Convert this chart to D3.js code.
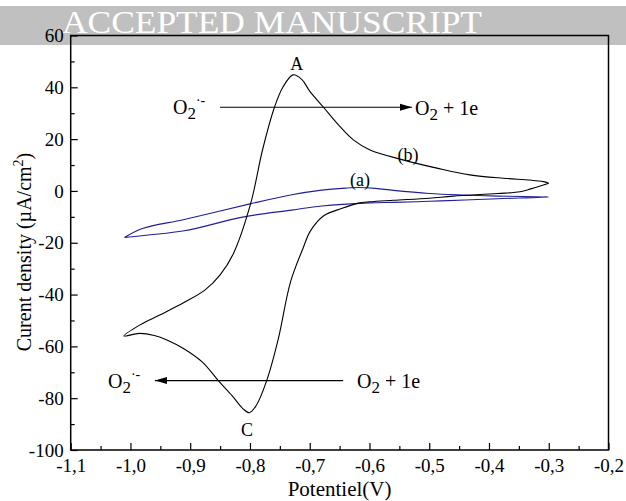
<!DOCTYPE html>
<html>
<head>
<meta charset="utf-8">
<title>Cyclic voltammogram</title>
<style>
  body { margin: 0; background: #fff; }
  text { font-family: "Liberation Serif", "DejaVu Serif", serif; }
</style>
</head>
<body>
<svg width="626" height="501"></svg>
<script src="https://d3js.org/d3.v7.min.js"></script>
<script>
// data (V, µA/cm2)
var curveB_cathodic = [
  [-0.300, 3.0], [-0.309, 2.3], [-0.330, 0.8], [-0.348, -0.3], [-0.385, -1.0],
  [-0.460, -2.0], [-0.500, -2.8], [-0.560, -3.6], [-0.600, -4.2], [-0.620, -4.8],
  [-0.647, -6.8], [-0.676, -9.5], [-0.699, -15.5], [-0.711, -22], [-0.732, -35],
  [-0.753, -57.5], [-0.772, -73.2], [-0.790, -83], [-0.801, -85.6], [-0.812, -84],
  [-0.830, -79], [-0.853, -73.2], [-0.880, -66], [-0.910, -61], [-0.939, -57.5],
  [-0.960, -55.8], [-0.985, -55], [-1.011, -56]
];
var curveB_anodic = [
  [-1.011, -56], [-0.984, -51.7], [-0.951, -47.9], [-0.909, -42.9], [-0.875, -38.2],
  [-0.850, -32.4], [-0.828, -24.3], [-0.799, -5], [-0.779, 15.8], [-0.759, 32.3],
  [-0.745, 40], [-0.728, 44.8], [-0.713, 43], [-0.700, 38.5], [-0.677, 32.3],
  [-0.650, 25], [-0.627, 19.7], [-0.599, 15.8], [-0.544, 12], [-0.487, 8.8],
  [-0.432, 6.2], [-0.376, 4.9], [-0.331, 4.2], [-0.309, 3.6], [-0.300, 3.0]
];
var curveA_anodic = [
  [-1.010, -18], [-0.980, -14.5], [-0.910, -11], [-0.800, -5], [-0.730, -1.5],
  [-0.680, 0.3], [-0.640, 1.1], [-0.620, 1.3], [-0.590, 1.0], [-0.560, 0.2],
  [-0.500, -1], [-0.440, -1.6], [-0.385, -2.0], [-0.300, -2.3]
];
var curveA_cathodic = [
  [-0.300, -2.3], [-0.385, -3.0], [-0.440, -3.5], [-0.500, -4.0], [-0.560, -4.4],
  [-0.600, -4.6], [-0.680, -5.8], [-0.730, -7.4], [-0.810, -10], [-0.910, -15.4],
  [-0.970, -17], [-1.010, -18]
];

var xTicks = [-1.1, -1.0, -0.9, -0.8, -0.7, -0.6, -0.5, -0.4, -0.3, -0.2];
var yTicks = [-100, -80, -60, -40, -20, 0, 20, 40, 60];

var svg = d3.select("svg");
var x = d3.scaleLinear().domain([-1.1, -0.2]).range([70.7, 608.5]);
var y = d3.scaleLinear().domain([-100, 60]).range([450, 35.5]);

// grey banner
svg.append("rect").attr("x", 0).attr("y", 6).attr("width", 626).attr("height", 39).attr("fill", "#c0c0c0");
svg.append("text").attr("x", 62).attr("y", 33).attr("fill", "#fff")
  .style("font-size", "32px").attr("textLength", 420).attr("lengthAdjust", "spacingAndGlyphs")
  .text("ACCEPTED MANUSCRIPT");

function fmt(d) { return d.toFixed(1).replace(".", ","); }

// minor ticks
var xMinor = d3.range(-1.05, -0.2, 0.1);
var yMinor = d3.range(-90, 60, 20);
svg.append("g").attr("transform", "translate(0,450)")
  .call(d3.axisBottom(x).tickValues(xMinor).tickSize(-4).tickFormat(""))
  .call(function(g) { g.select(".domain").remove(); g.selectAll("line").attr("stroke-width", 1.2); });
svg.append("g").attr("transform", "translate(70.7,0)")
  .call(d3.axisLeft(y).tickValues(yMinor).tickSize(-4).tickFormat(""))
  .call(function(g) { g.select(".domain").remove(); g.selectAll("line").attr("stroke-width", 1.2); });

// major ticks + labels
var xAxis = svg.append("g").attr("transform", "translate(0,450)")
  .call(d3.axisBottom(x).tickValues(xTicks).tickSize(-7).tickPadding(9).tickFormat(fmt));
var yAxis = svg.append("g").attr("transform", "translate(70.7,0)")
  .call(d3.axisLeft(y).tickValues(yTicks).tickSize(-7).tickPadding(7).tickFormat(function(d) { return d; }));
[xAxis, yAxis].forEach(function(g) {
  g.select(".domain").remove();
  g.selectAll("line").attr("stroke-width", 1.2);
  g.selectAll("text").style("font-size", "19px").style("font-family", "Liberation Serif").attr("fill", "#000");
});

// frame
svg.append("rect").attr("x", 70.7).attr("y", 35.5).attr("width", 608.5 - 70.7).attr("height", 450 - 35.5)
  .attr("fill", "none").attr("stroke", "#000").attr("stroke-width", 1.5);

// curves
var line = d3.line().x(function(d) { return x(d[0]); }).y(function(d) { return y(d[1]); })
  .curve(d3.curveCatmullRom.alpha(0.5));
svg.append("path").attr("d", line(curveA_anodic.concat(curveA_cathodic.slice(1))))
  .attr("fill", "none").attr("stroke", "#1f1f99").attr("stroke-width", 1.1);
svg.append("path").attr("d", line(curveB_cathodic.concat(curveB_anodic.slice(1))))
  .attr("fill", "none").attr("stroke", "#000").attr("stroke-width", 1.1);

// arrows
var defs = svg.append("defs");
defs.append("marker").attr("id", "arrow").attr("markerUnits", "userSpaceOnUse")
  .attr("markerWidth", 12).attr("markerHeight", 8).attr("viewBox", "0 0 12 8")
  .attr("refX", 12).attr("refY", 4).attr("orient", "auto")
  .append("path").attr("d", "M0,0.5 L12,4 L0,7.5 z").attr("fill", "#000");

function arrow(v1, v2, i) {
  svg.append("line").attr("x1", x(v1)).attr("x2", x(v2)).attr("y1", y(i)).attr("y2", y(i))
    .attr("stroke", "#000").attr("stroke-width", 1.2).attr("marker-end", "url(#arrow)");
}
arrow(-0.850, -0.529, 32.3);
arrow(-0.644, -0.959, -73.2);

function superoxide(px, py) {
  var t = svg.append("text").attr("x", px).attr("y", py).style("font-size", "20px");
  t.append("tspan").text("O");
  t.append("tspan").attr("dy", 5).style("font-size", "17px").text("2");
  t.append("tspan").attr("dy", -14).style("font-size", "14px").text("\u00b7-");
}
function oxygen(px, py) {
  var t = svg.append("text").attr("x", px).attr("y", py).style("font-size", "20px");
  t.append("tspan").text("O");
  t.append("tspan").attr("dy", 5).style("font-size", "17px").text("2");
  t.append("tspan").attr("dy", -5).text(" + 1e");
}
superoxide(173, 114);
oxygen(415, 115);
superoxide(108, 388);
oxygen(357, 388);

function label(px, py, s) {
  svg.append("text").attr("x", px).attr("y", py).attr("text-anchor", "middle")
    .style("font-size", "18px").text(s);
}
label(296.7, 69.5, "A");
label(247, 436, "C");
label(408, 161, "(b)");
label(360, 186, "(a)");

// axis titles
svg.append("text").attr("x", 339.6).attr("y", 496).attr("text-anchor", "middle")
  .style("font-size", "21px").text("Potentiel(V)");
var yt = svg.append("text").attr("transform", "translate(31,252) rotate(-90)")
  .attr("text-anchor", "middle").style("font-size", "20px");
yt.append("tspan").text("Curent density (\u00b5A/cm");
yt.append("tspan").attr("dy", -8).style("font-size", "14px").text("2");
yt.append("tspan").attr("dy", 8).text(")");
</script>
</body>
</html>
